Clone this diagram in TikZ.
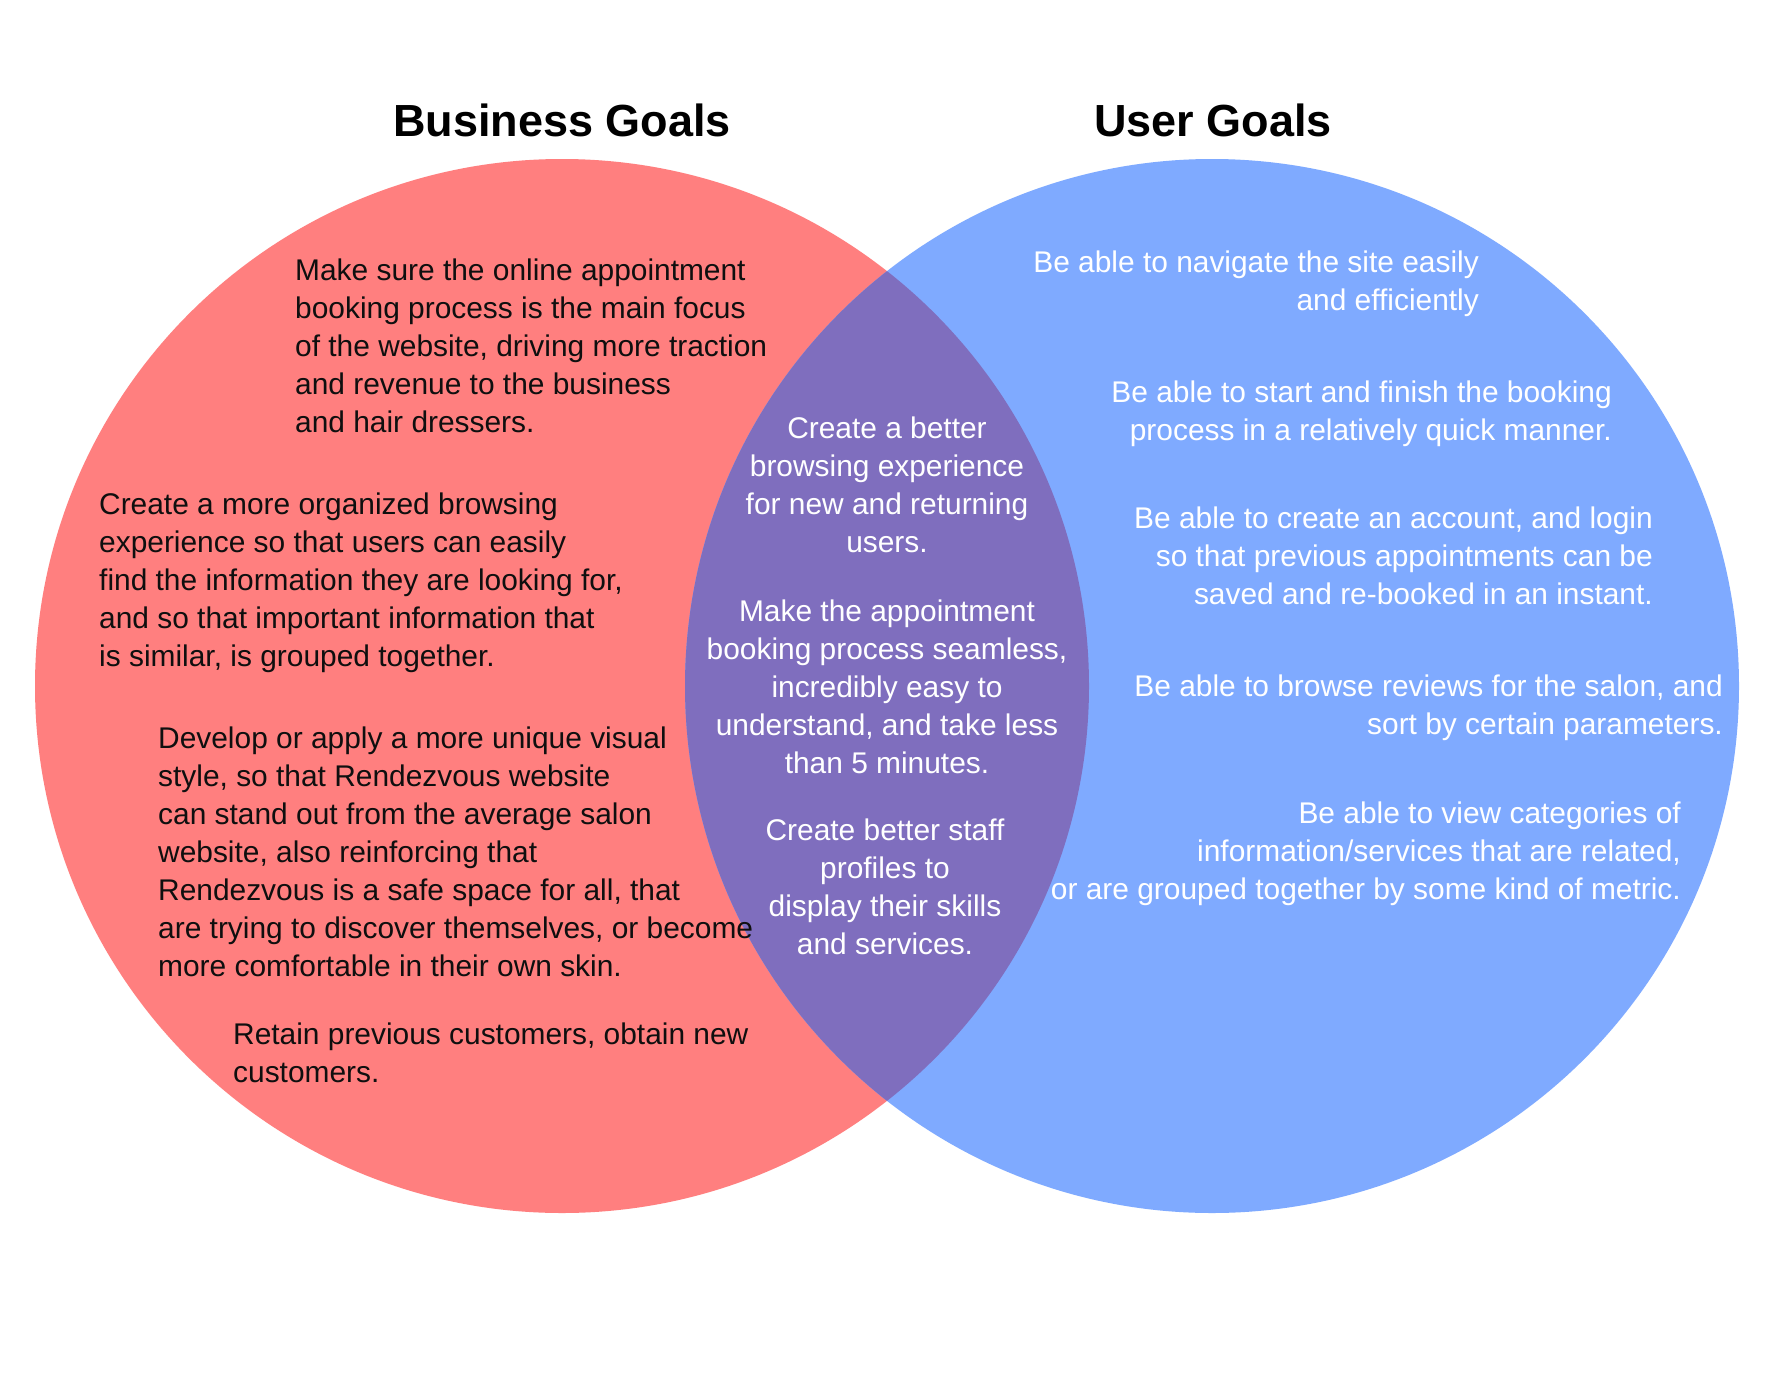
\documentclass[tikz,border=0pt]{standalone}
\usepackage{fontspec}
\setmainfont{Liberation Sans}
\definecolor{redc}{RGB}{255,127,127}
\definecolor{bluec}{RGB}{127,170,255}
\definecolor{purpc}{RGB}{127,110,190}
\definecolor{txtdark}{RGB}{15,15,15}
\begin{document}
\begin{tikzpicture}[x=1pt,y=-1pt,
  body/.style={inner sep=0pt, font=\fontsize{29.9}{38}\selectfont},
  lefttxt/.style={body, anchor=north west, align=left, text=txtdark},
  midtxt/.style={body, anchor=north, align=center, text=white},
  righttxt/.style={body, anchor=north east, align=right, text=white},
  titletxt/.style={inner sep=0pt, anchor=base, font=\fontsize{45}{54}\selectfont\bfseries, text=black}]
\useasboundingbox (0,0) rectangle (1773,1373);
\fill[white] (0,0) rectangle (1773,1373);
\coordinate (LC) at (562,686);
\coordinate (RC) at (1212,686);
\fill[redc] (LC) circle[radius=527];
\fill[bluec] (RC) circle[radius=527];
\begin{scope}
\clip (LC) circle[radius=527];
\fill[purpc] (RC) circle[radius=527];
\end{scope}
\node[titletxt] (tb) at (562,136) {Business Goals};
\node[titletxt] (tu) at (1213,136) {User Goals};
% left
\node[lefttxt] (l1) at (295,258.5) {Make sure the online appointment\\booking process is the main focus\\of the website, driving more traction\\and revenue to the business\\and hair dressers.};
\node[lefttxt] (l2) at (99,492.5) {Create a more organized browsing\\experience so that users can easily\\find the information they are looking for,\\and so that important information that\\is similar, is grouped together.};
\node[lefttxt] (l3) at (158,726.5) {Develop or apply a more unique visual\\style, so that Rendezvous website\\can stand out from the average salon\\website, also reinforcing that\\Rendezvous is a safe space for all, that\\are trying to discover themselves, or become\\more comfortable in their own skin.};
\node[lefttxt] (l4) at (233,1022.5) {Retain previous customers, obtain new\\customers.};
% middle
\node[midtxt] (m1) at (887,416.5) {Create a better\\browsing experience\\for new and returning\\users.};
\node[midtxt] (m2) at (887,599.5) {Make the appointment\\booking process seamless,\\incredibly easy to\\understand, and take less\\than 5 minutes.};
\node[midtxt] (m3) at (885,818.5) {Create better staff\\profiles to\\display their skills\\and services.};
% right
\node[righttxt] (r1) at (1479,250.5) {Be able to navigate the site easily\\and efficiently};
\node[righttxt] (r2) at (1612,380.5) {Be able to start and finish the booking\\process in a relatively quick manner.};
\node[righttxt] (r3) at (1653,506.5) {Be able to create an account, and login\\so that previous appointments can be\\saved and re-booked in an instant.};
\node[righttxt] (r4) at (1723,674.5) {Be able to browse reviews for the salon, and\\sort by certain parameters.};
\node[righttxt] (r5) at (1681,801.5) {Be able to view categories of\\information/services that are related,\\or are grouped together by some kind of metric.};
\end{tikzpicture}
\end{document}
